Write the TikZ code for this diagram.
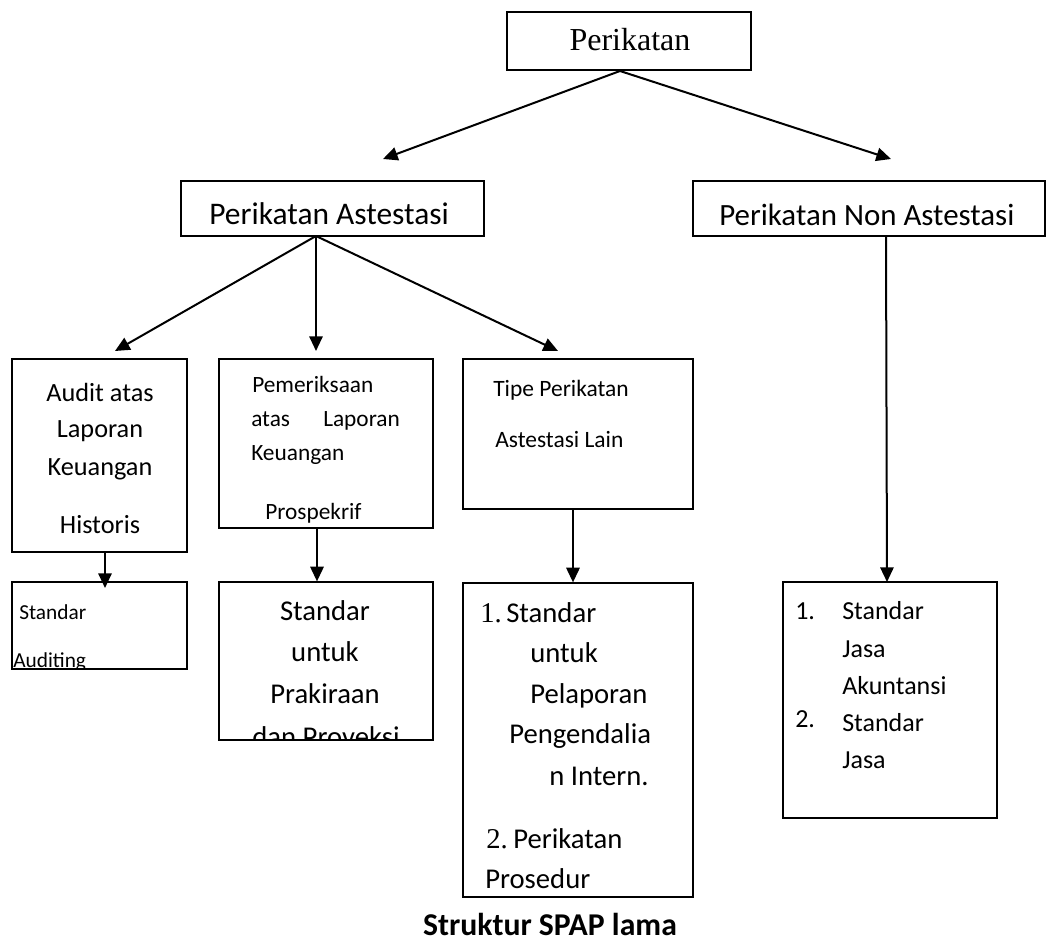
\documentclass[tikz,border=0pt]{standalone}
\usepackage{fontspec}
\setmainfont{Carlito}
\newfontfamily\tms{Liberation Serif}
\usetikzlibrary{arrows.meta,fit}
\newcommand\fs[1]{\fontsize{#1pt}{#1pt}\selectfont}
\begin{document}
\begin{tikzpicture}[x=0.75pt,y=-0.75pt,
  box/.style={draw, line width=0.9pt, inner sep=0pt},
  arr/.style={-{Triangle[length=11pt,width=10pt]}, line width=1.5pt},
  txt/.style={inner sep=0pt, anchor=base west},
  ctr/.style={inner sep=0pt, anchor=base}]
\useasboundingbox (0,0) rectangle (1047,941);
% boxes
\node[box, fit={(507,12) (751,70)}] (per) {};
\node[box, fit={(181,181) (484,236)}] (ast) {};
\node[box, fit={(693,181) (1045,236)}] (non) {};
\node[box, fit={(12,359) (187,552)}] (aud) {};
\node[box, fit={(219,359) (433,528)}] (pem) {};
\node[box, fit={(463,359) (693,509)}] (tip) {};
\node[box, fit={(12,582) (187,669)}] (sa) {};
\node[box, fit={(219,582) (433,740)}] (spk) {};
\node[box, fit={(463,583) (693,897)}] (spp) {};
\node[box, fit={(783,582) (997,818)}] (sja) {};
% texts
\node[ctr, font=\tms\fs{24}] (tper) at (630,51) {Perikatan};
\node[txt, font=\fs{23.6}] (tast) at (209,225) {Perikatan Astestasi};
\node[txt, font=\fs{23.2}] (tnon) at (719,226) {Perikatan Non Astestasi};
% audit
\node[ctr, font=\fs{19.7}] (a1) at (100,402) {Audit atas};
\node[ctr, font=\fs{19.7}] (a2) at (100,438) {Laporan};
\node[ctr, font=\fs{19.7}] (a3) at (100,475) {Keuangan};
\node[ctr, font=\fs{19.7}] (a4) at (100,533) {Historis};
% pemeriksaan
\node[txt, font=\fs{17.5}] (p1) at (252,393) {Pemeriksaan};
\node[txt, font=\fs{17.5}] (p2) at (251,427) {atas};
\node[txt, font=\fs{17.5}] (p2b) at (323,427) {Laporan};
\node[txt, font=\fs{17.5}] (p3) at (251,460) {Keuangan};
\node[txt, font=\fs{17.5}] (p4) at (265,519) {Prospekrif};
% tipe
\node[txt, font=\fs{17.6}] (ti1) at (493,397) {Tipe Perikatan};
\node[txt, font=\fs{17.6}] (ti2) at (495,448) {Astestasi Lain};
% standar auditing
\node[txt, font=\fs{16}] (s1) at (19,619) {Standar};
\begin{scope}
\clip (12,582) rectangle (187,669);
\node[txt, font=\fs{16}] (s2) at (13,667) {Auditing};
\end{scope}
% prakiraan
\node[ctr, font=\fs{21.5}] (k1) at (325,620) {Standar};
\node[ctr, font=\fs{21.5}] (k2) at (325,661) {untuk};
\node[ctr, font=\fs{21.5}] (k3) at (325,703) {Prakiraan};
\begin{scope}
\clip (219,582) rectangle (433,740);
\node[ctr, font=\fs{21.5}] (k4) at (326,746) {dan Proveksi};
\end{scope}
% pelaporan
\node[txt, font=\tms\fs{21.5}] (n1) at (480,622) {1.};
\node[txt, font=\fs{21.5}] (r1) at (506,622) {Standar};
\node[txt, font=\fs{21.5}] (r2) at (530,662) {untuk};
\node[txt, font=\fs{21.5}] (r3) at (530,703) {Pelaporan};
\node[txt, font=\fs{21.5}] (r4) at (509,743) {Pengendalia};
\node[txt, font=\fs{21.5}] (r5) at (549,785) {n Intern.};
\node[txt, font=\tms\fs{21.5}] (n2) at (486,848) {2.};
\node[txt, font=\fs{21.5}] (r6) at (513,848) {Perikatan};
\node[txt, font=\fs{21.5}] (r7) at (485,888) {Prosedur};
% jasa
\node[txt, font=\fs{19.5}] (j0) at (795,619) {1.};
\node[txt, font=\fs{19.5}] (j1) at (842,619) {Standar};
\node[txt, font=\fs{19.5}] (j2) at (842,657) {Jasa};
\node[txt, font=\fs{19.5}] (j3) at (842,694) {Akuntansi};
\node[txt, font=\fs{19.5}] (j4) at (795,727) {2.};
\node[txt, font=\fs{19.5}] (j5) at (842,731) {Standar};
\node[txt, font=\fs{19.5}] (j6) at (842,768) {Jasa};
% caption
\node[ctr, font=\bfseries\fs{23.8}] (cap) at (550,935) {Struktur SPAP lama};
% connectors
\coordinate (o1) at (620,71);
\coordinate (t1) at (383,159);
\coordinate (t2) at (891,159);
\draw[arr] (o1) -- (t1);
\draw[arr] (o1) -- (t2);
\coordinate (fa) at (316,236);
\coordinate (u1) at (115,351);
\coordinate (u2) at (316,351);
\coordinate (u3) at (558,351);
\draw[arr] (fa) -- (u1);
\draw[arr] (fa) -- (u2);
\draw[arr] (fa) -- (u3);
\draw[arr] (aud.south -| 105,0) -- (105,588);
\draw[arr] (pem.south -| 317,0) -- (spk.north -| 317,0);
\draw[arr] (tip.south -| 573,0) -- (spp.north -| 573,0);
\draw[arr] (non.south -| 886,0) -- (887,582);
\end{tikzpicture}
\end{document}
